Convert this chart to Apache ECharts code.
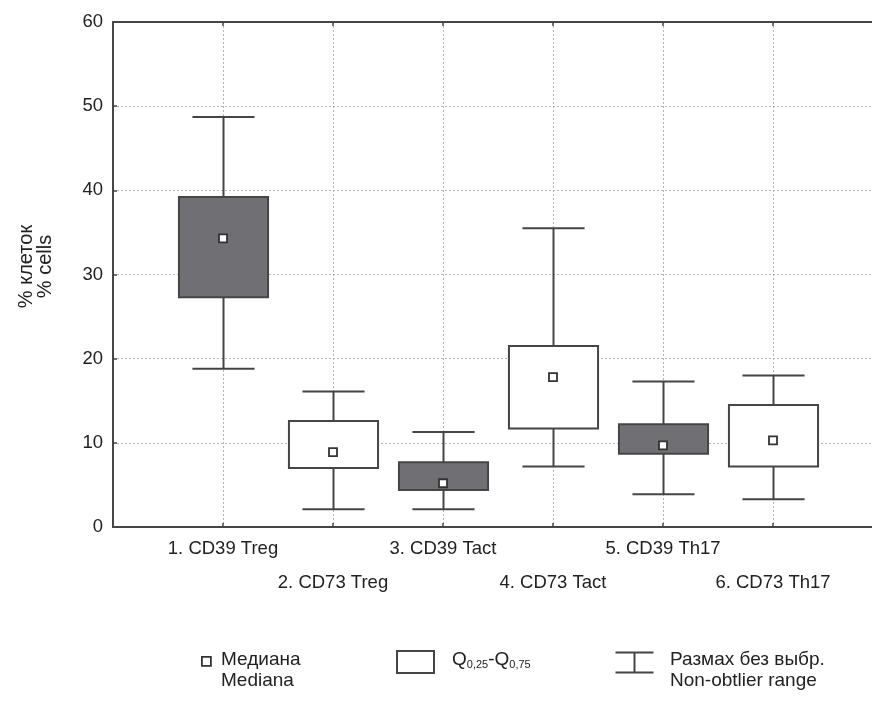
<!DOCTYPE html>
<html>
<head>
<meta charset="utf-8">
<script src="https://cdn.jsdelivr.net/npm/echarts@6/dist/echarts.min.js"></script>
<style>
html,body{margin:0;padding:0;background:#fff;}
#chart{width:872px;height:704px;}
</style>
</head>
<body>
<div id="chart"></div>
<script>
var categories = ['1. CD39 Treg', '2. CD73 Treg', '3. CD39 Tact', '4. CD73 Tact', '5. CD39 Th17', '6. CD73 Th17'];
var lowValues    = [18.8, 2.1, 2.1, 7.2, 3.9, 3.3];
var q1Values     = [27.3, 7.0, 4.4, 11.7, 8.7, 7.2];
var medianValues = [34.3, 8.9, 5.2, 17.8, 9.7, 10.3];
var q3Values     = [39.2, 12.6, 7.7, 21.5, 12.2, 14.5];
var highValues   = [48.7, 16.1, 11.3, 35.5, 17.3, 18.0];
var shaded       = [true, false, true, false, true, false];
var yTicks       = [0, 10, 20, 30, 40, 50, 60];

var FONT = 'Liberation Sans';
var LINE = '#454545';
var DARK = '#707074';

var boxDark = [], boxLight = [], medians = [];
categories.forEach(function (c, i) {
  var row = [i + 1, lowValues[i], q1Values[i], medianValues[i], q3Values[i], highValues[i]];
  (shaded[i] ? boxDark : boxLight).push(row);
  medians.push([i + 1, medianValues[i]]);
});

function renderBox(fill) {
  return function (params, api) {
    var x = api.value(0);
    var pLow = api.coord([x, api.value(1)]);
    var pQ1 = api.coord([x, api.value(2)]);
    var pQ3 = api.coord([x, api.value(4)]);
    var pHigh = api.coord([x, api.value(5)]);
    var unit = api.size([1, 0])[0];
    var bw = unit * 0.81;
    var cw = unit * 0.565;
    var cx = Math.round(pLow[0]) + 0.5;
    var st = { stroke: LINE, lineWidth: 2, fill: null };
    return {
      type: 'group',
      children: [
        { type: 'line', shape: { x1: cx, y1: pHigh[1], x2: cx, y2: pQ3[1] }, style: st },
        { type: 'line', shape: { x1: cx, y1: pQ1[1], x2: cx, y2: pLow[1] }, style: st },
        { type: 'line', shape: { x1: cx - cw / 2, y1: pHigh[1], x2: cx + cw / 2, y2: pHigh[1] }, style: st },
        { type: 'line', shape: { x1: cx - cw / 2, y1: pLow[1], x2: cx + cw / 2, y2: pLow[1] }, style: st },
        { type: 'rect', shape: { x: cx - bw / 2, y: pQ3[1], width: bw, height: pQ1[1] - pQ3[1] },
          style: { fill: fill, stroke: LINE, lineWidth: 2 } }
      ]
    };
  };
}

var chart = echarts.init(document.getElementById('chart'));
chart.setOption({
  backgroundColor: '#fff',
  animation: false,
  grid: { left: 113, top: 22, width: 770, height: 505, containLabel: false, outerBoundsMode: 'none' },
  xAxis: [{
    type: 'value', min: 0, max: 7, interval: 1, position: 'bottom',
    axisLine: { show: true, lineStyle: { color: LINE, width: 2 } },
    axisTick: { show: true, inside: true, length: 4, lineStyle: { color: LINE, width: 1.5 } },
    splitLine: { show: true, lineStyle: { color: '#b4b4b4', type: [2, 2], width: 1 } },
    axisLabel: {
      margin: 5, fontFamily: FONT, fontSize: 18.5, color: '#222', lineHeight: 34,
      formatter: function (v) {
        if (v < 1 || v > categories.length) return '';
        var lab = categories[v - 1];
        return (v % 2 === 0) ? '\n' + lab : lab;
      }
    }
  }, {
    type: 'value', min: 0, max: 7, interval: 1, position: 'top',
    axisLine: { show: true, lineStyle: { color: LINE, width: 2 } },
    axisTick: { show: true, inside: true, length: 4, lineStyle: { color: LINE, width: 1.5 } },
    splitLine: { show: false },
    axisLabel: { show: false }
  }],
  yAxis: {
    type: 'value', min: 0, max: 60, interval: 10,
    name: '% клеток\n% cells', nameLocation: 'middle', nameRotate: 90, nameGap: 58,
    nameTextStyle: { fontFamily: FONT, fontSize: 20, color: '#222', lineHeight: 19, padding: [0, 0, 0, 16] },
    axisLine: { show: true, lineStyle: { color: LINE, width: 2 } },
    axisTick: { show: true, inside: true, length: 4, lineStyle: { color: LINE, width: 1.5 } },
    splitLine: { show: true, lineStyle: { color: '#b4b4b4', type: [2, 2], width: 1 } },
    axisLabel: {
      margin: 10, fontFamily: FONT, fontSize: 18.5, color: '#222',
      formatter: function (v) { return yTicks.indexOf(v) >= 0 ? String(v) : ''; }
    }
  },
  series: [
    { type: 'custom', name: 'Q0,25-Q0,75', data: boxDark, renderItem: renderBox(DARK), z: 3,
      encode: { x: 0, y: [1, 2, 3, 4, 5] } },
    { type: 'custom', name: 'Q0,25-Q0,75', data: boxLight, renderItem: renderBox('#ffffff'), z: 3,
      encode: { x: 0, y: [1, 2, 3, 4, 5] } },
    { type: 'scatter', name: 'Медиана', data: medians, symbol: 'rect', symbolSize: 8, z: 5,
      itemStyle: { color: '#ffffff', borderColor: '#333', borderWidth: 1.8, opacity: 1 } }
  ],
  graphic: [
    { type: 'rect', left: 201, top: 656, shape: { width: 9, height: 9 },
      style: { fill: '#fff', stroke: '#333', lineWidth: 1.8 } },
    { type: 'text', left: 221, top: 649,
      style: { text: 'Медиана\nMediana', fontFamily: FONT, fontSize: 19, lineHeight: 21, fill: '#222' } },
    { type: 'rect', left: 396, top: 650, shape: { width: 37, height: 22 },
      style: { fill: '#fff', stroke: LINE, lineWidth: 2 } },
    { type: 'text', left: 452, top: 649,
      style: {
        text: '{n|Q}{s|0,25}{n|-Q}{s|0,75}',
        rich: {
          n: { fontFamily: FONT, fontSize: 19, fill: '#222', lineHeight: 21 },
          s: { fontFamily: FONT, fontSize: 11, fill: '#222', padding: [10, 0, 0, 0], lineHeight: 21 }
        }
      } },
    { type: 'group', left: 613, top: 650, children: [
      { type: 'line', shape: { x1: 0, y1: 1, x2: 38, y2: 1 }, style: { stroke: LINE, lineWidth: 2 } },
      { type: 'line', shape: { x1: 19, y1: 1, x2: 19, y2: 21 }, style: { stroke: LINE, lineWidth: 2 } },
      { type: 'line', shape: { x1: 0, y1: 21, x2: 38, y2: 21 }, style: { stroke: LINE, lineWidth: 2 } }
    ] },
    { type: 'text', left: 670, top: 649,
      style: { text: 'Размах без выбр.\nNon-obtlier range', fontFamily: FONT, fontSize: 19, lineHeight: 21, fill: '#222' } }
  ]
});
</script>
</body>
</html>
